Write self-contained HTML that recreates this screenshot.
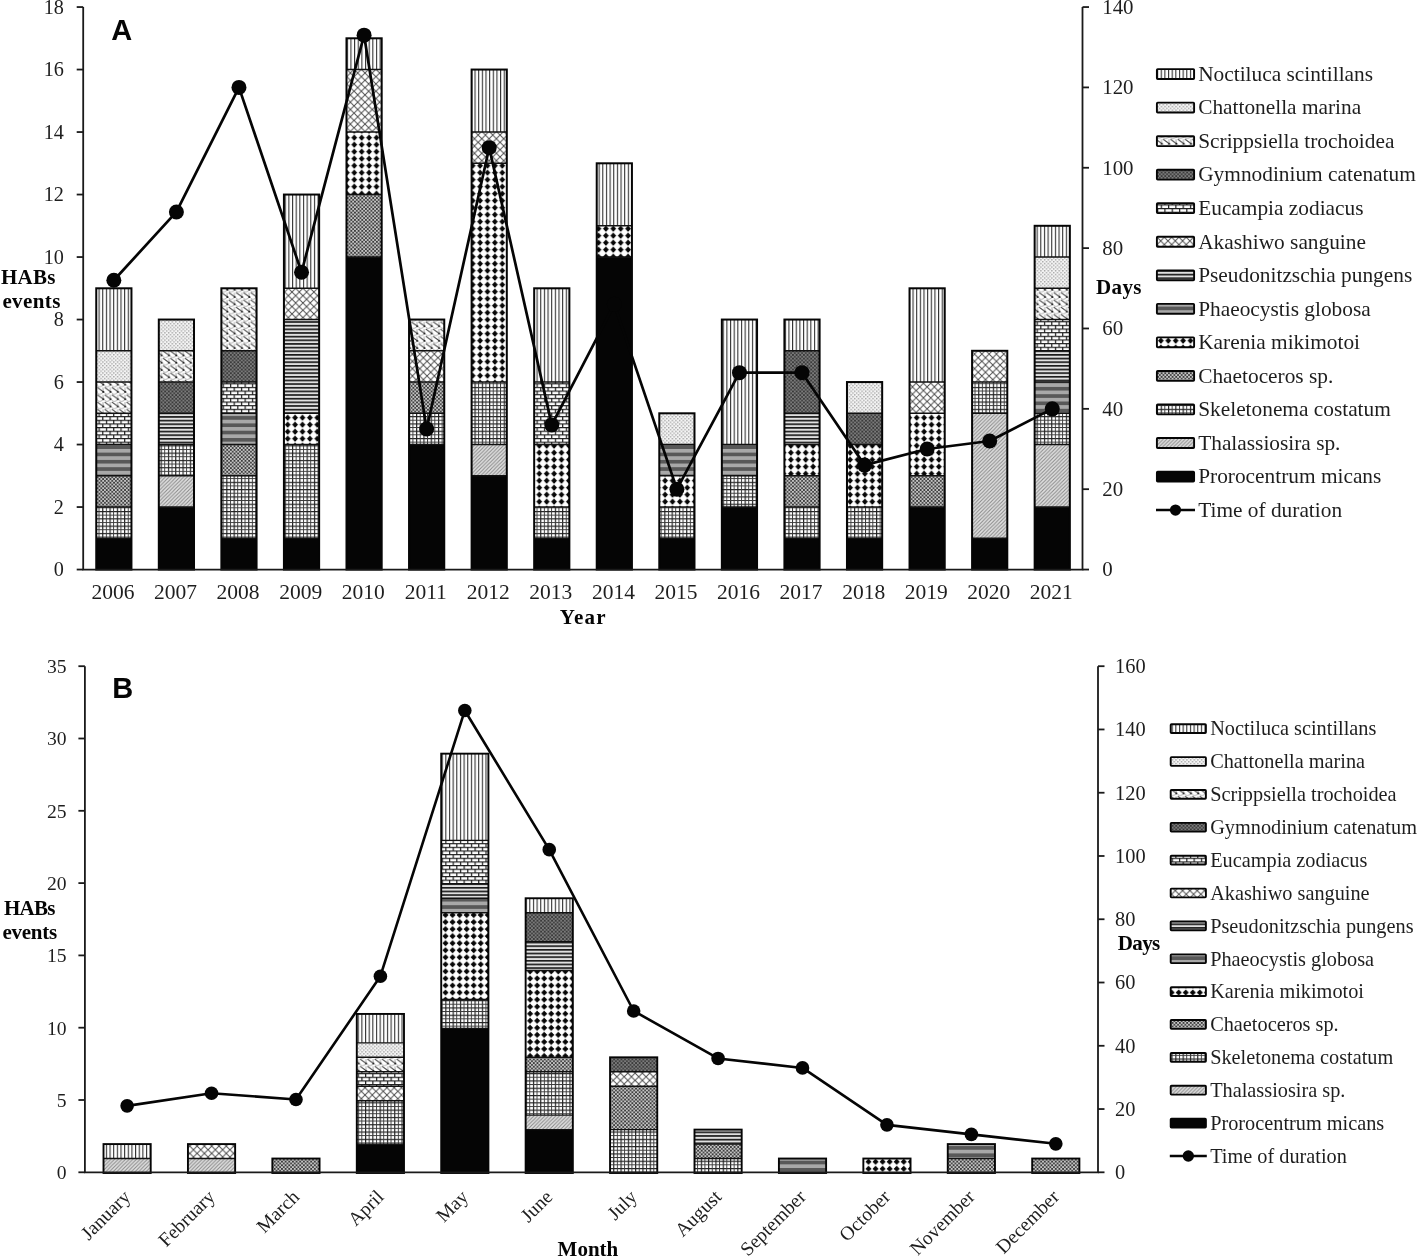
<!DOCTYPE html>
<html><head><meta charset="utf-8"><style>
html,body{margin:0;padding:0;background:#fff;}
svg{display:block;filter:grayscale(1);}
.tk{font-family:"Liberation Serif",serif;fill:#1e1e1e;}
.lg{font-family:"Liberation Serif",serif;fill:#1e1e1e;}
.ax{font-family:"Liberation Serif",serif;font-weight:bold;font-size:21px;fill:#050505;}
.ttl{font-family:"Liberation Sans",sans-serif;font-weight:bold;font-size:29px;fill:#050505;}
</style></head><body>
<svg width="1418" height="1257" viewBox="0 0 1418 1257">
<defs>
<pattern id="p_noct" patternUnits="userSpaceOnUse" width="3.65" height="10">
 <rect width="3.65" height="10" fill="#fff"/><rect x="0" width="1.1" height="10" fill="#333"/></pattern>
<pattern id="p_chat" patternUnits="userSpaceOnUse" width="3.65" height="3.65">
 <rect width="3.65" height="3.65" fill="#f5f5f5"/><rect x="0" y="0" width="1.4" height="1.4" fill="#a0a0a0"/><rect x="1.825" y="1.825" width="1.4" height="1.4" fill="#a8a8a8"/></pattern>
<pattern id="p_scri" patternUnits="userSpaceOnUse" width="7.3" height="7.3" x="0.8" y="0.5">
 <rect width="7.3" height="7.3" fill="#fff"/>
 <path d="M0,0.2 C-0.3,4.6 2.4,6.9 4.1,6.7 C5.8,6.5 7.1,5.6 7.63,4.3 M-7.3,0.2 C-7.6,4.6 -4.9,6.9 -3.2,6.7 C-1.5,6.5 -0.2,5.6 0.33,4.3 M7.3,0.2 C7.0,4.6 9.7,6.9 11.4,6.7" fill="none" stroke="#a0a0a0" stroke-width="0.9"/>
 <path d="M1.6,0.1 L7.63,4.3 M-5.7,0.1 L0.33,4.3 M1.6,7.4 L3,8.4" fill="none" stroke="#454545" stroke-width="1.1"/>
 <circle cx="0.35" cy="4.5" r="0.95" fill="#1a1a1a"/><circle cx="7.65" cy="4.5" r="0.95" fill="#1a1a1a"/></pattern>
<pattern id="p_gymn" patternUnits="userSpaceOnUse" width="3.65" height="3.65">
 <rect width="3.65" height="3.65" fill="#7a7a7a"/><rect x="0" y="0" width="1.825" height="1.825" fill="#3a3a3a"/><rect x="1.825" y="1.825" width="1.825" height="1.825" fill="#444"/></pattern>
<pattern id="p_euca" patternUnits="userSpaceOnUse" width="7.3" height="7.3">
 <rect width="7.3" height="7.3" fill="#fff"/>
 <rect x="0" y="0" width="7.3" height="1.15" fill="#1e1e1e"/><rect x="0" y="3.65" width="7.3" height="1.15" fill="#1e1e1e"/>
 <rect x="0" y="0" width="1.2" height="3.65" fill="#1e1e1e"/><rect x="3.65" y="3.65" width="1.2" height="3.65" fill="#1e1e1e"/></pattern>
<pattern id="p_akas" patternUnits="userSpaceOnUse" width="7.3" height="7.3">
 <rect width="7.3" height="7.3" fill="#fff"/>
 <path d="M0,0 L7.3,7.3 M7.3,0 L0,7.3" stroke="#4a4a4a" stroke-width="0.95"/></pattern>
<pattern id="p_pseu" patternUnits="userSpaceOnUse" width="10" height="3.65">
 <rect width="10" height="3.65" fill="#e0e0e0"/><rect y="0" width="10" height="1.65" fill="#1a1a1a"/></pattern>
<pattern id="p_phae" patternUnits="userSpaceOnUse" width="10" height="7.3">
 <rect width="10" height="7.3" fill="#a8a8a8"/><rect y="0" width="10" height="3.65" fill="#585858"/></pattern>
<pattern id="p_kare" patternUnits="userSpaceOnUse" width="7.4" height="7.0" x="2.8" y="1.2">
 <rect width="7.4" height="7.0" fill="#fff"/>
 <path d="M0,3.5 H7.4 M3.7,0 V7" stroke="#c8c8c8" stroke-width="0.6"/>
 <path d="M3.7,1.2 L6.0,3.5 L3.7,5.8 L1.4,3.5 Z" fill="#050505" stroke="#050505" stroke-width="1.0" stroke-linejoin="round"/></pattern>
<pattern id="p_kareB" patternUnits="userSpaceOnUse" width="7.05" height="7.05" x="4.88" y="2.03">
 <rect width="7.05" height="7.05" fill="#fff"/>
 <path d="M0,3.525 H7.05 M3.525,0 V7.05" stroke="#c8c8c8" stroke-width="0.6"/>
 <path d="M3.525,1.3 L5.75,3.525 L3.525,5.75 L1.3,3.525 Z" fill="#050505" stroke="#050505" stroke-width="1.1" stroke-linejoin="round"/></pattern>
<pattern id="p_chae" patternUnits="userSpaceOnUse" width="3.65" height="3.65">
 <rect width="3.65" height="3.65" fill="#c4c4c4"/><rect x="0" y="0" width="1.825" height="1.825" fill="#3c3c3c"/><rect x="1.825" y="1.825" width="1.825" height="1.825" fill="#4a4a4a"/></pattern>
<pattern id="p_skel" patternUnits="userSpaceOnUse" width="7.3" height="7.3">
 <rect width="7.3" height="7.3" fill="#fff"/>
 <rect x="0" y="0" width="1.15" height="7.3" fill="#1e1e1e"/><rect x="0" y="0" width="7.3" height="1.15" fill="#1e1e1e"/>
 <rect x="3.65" y="0" width="0.95" height="7.3" fill="#3a3a3a"/><rect x="0" y="3.65" width="7.3" height="0.95" fill="#3a3a3a"/></pattern>
<pattern id="p_thal" patternUnits="userSpaceOnUse" width="3.65" height="3.65">
 <rect width="3.65" height="3.65" fill="#e2e2e2"/>
 <path d="M-1,4.65 L4.65,-1 M-1,1 L1,-1 M2.65,4.65 L4.65,2.65" stroke="#8a8a8a" stroke-width="1.1"/></pattern>
</defs>
<rect width="1418" height="1257" fill="#fff"/>
<rect x="96.25" y="538.30" width="35.20" height="31.25" fill="#050505"/>
<rect x="96.25" y="507.05" width="35.20" height="31.25" fill="url(#p_skel)"/>
<rect x="96.25" y="475.80" width="35.20" height="31.25" fill="url(#p_chae)"/>
<rect x="96.25" y="444.55" width="35.20" height="31.25" fill="url(#p_phae)"/>
<rect x="96.25" y="413.30" width="35.20" height="31.25" fill="url(#p_euca)"/>
<rect x="96.25" y="382.05" width="35.20" height="31.25" fill="url(#p_scri)"/>
<rect x="96.25" y="350.80" width="35.20" height="31.25" fill="url(#p_chat)"/>
<rect x="96.25" y="288.30" width="35.20" height="62.50" fill="url(#p_noct)"/>
<line x1="96.25" y1="538.30" x2="131.45" y2="538.30" stroke="#111" stroke-width="1.4"/>
<line x1="96.25" y1="507.05" x2="131.45" y2="507.05" stroke="#111" stroke-width="1.4"/>
<line x1="96.25" y1="475.80" x2="131.45" y2="475.80" stroke="#111" stroke-width="1.4"/>
<line x1="96.25" y1="444.55" x2="131.45" y2="444.55" stroke="#111" stroke-width="1.4"/>
<line x1="96.25" y1="413.30" x2="131.45" y2="413.30" stroke="#111" stroke-width="1.4"/>
<line x1="96.25" y1="382.05" x2="131.45" y2="382.05" stroke="#111" stroke-width="1.4"/>
<line x1="96.25" y1="350.80" x2="131.45" y2="350.80" stroke="#111" stroke-width="1.4"/>
<rect x="96.25" y="288.30" width="35.20" height="281.25" fill="none" stroke="#050505" stroke-width="2.0"/>
<rect x="158.81" y="507.05" width="35.20" height="62.50" fill="#050505"/>
<rect x="158.81" y="475.80" width="35.20" height="31.25" fill="url(#p_thal)"/>
<rect x="158.81" y="444.55" width="35.20" height="31.25" fill="url(#p_skel)"/>
<rect x="158.81" y="413.30" width="35.20" height="31.25" fill="url(#p_pseu)"/>
<rect x="158.81" y="382.05" width="35.20" height="31.25" fill="url(#p_gymn)"/>
<rect x="158.81" y="350.80" width="35.20" height="31.25" fill="url(#p_scri)"/>
<rect x="158.81" y="319.55" width="35.20" height="31.25" fill="url(#p_chat)"/>
<line x1="158.81" y1="507.05" x2="194.01" y2="507.05" stroke="#111" stroke-width="1.4"/>
<line x1="158.81" y1="475.80" x2="194.01" y2="475.80" stroke="#111" stroke-width="1.4"/>
<line x1="158.81" y1="444.55" x2="194.01" y2="444.55" stroke="#111" stroke-width="1.4"/>
<line x1="158.81" y1="413.30" x2="194.01" y2="413.30" stroke="#111" stroke-width="1.4"/>
<line x1="158.81" y1="382.05" x2="194.01" y2="382.05" stroke="#111" stroke-width="1.4"/>
<line x1="158.81" y1="350.80" x2="194.01" y2="350.80" stroke="#111" stroke-width="1.4"/>
<rect x="158.81" y="319.55" width="35.20" height="250.00" fill="none" stroke="#050505" stroke-width="2.0"/>
<rect x="221.37" y="538.30" width="35.20" height="31.25" fill="#050505"/>
<rect x="221.37" y="475.80" width="35.20" height="62.50" fill="url(#p_skel)"/>
<rect x="221.37" y="444.55" width="35.20" height="31.25" fill="url(#p_chae)"/>
<rect x="221.37" y="413.30" width="35.20" height="31.25" fill="url(#p_phae)"/>
<rect x="221.37" y="382.05" width="35.20" height="31.25" fill="url(#p_euca)"/>
<rect x="221.37" y="350.80" width="35.20" height="31.25" fill="url(#p_gymn)"/>
<rect x="221.37" y="288.30" width="35.20" height="62.50" fill="url(#p_scri)"/>
<line x1="221.37" y1="538.30" x2="256.57" y2="538.30" stroke="#111" stroke-width="1.4"/>
<line x1="221.37" y1="475.80" x2="256.57" y2="475.80" stroke="#111" stroke-width="1.4"/>
<line x1="221.37" y1="444.55" x2="256.57" y2="444.55" stroke="#111" stroke-width="1.4"/>
<line x1="221.37" y1="413.30" x2="256.57" y2="413.30" stroke="#111" stroke-width="1.4"/>
<line x1="221.37" y1="382.05" x2="256.57" y2="382.05" stroke="#111" stroke-width="1.4"/>
<line x1="221.37" y1="350.80" x2="256.57" y2="350.80" stroke="#111" stroke-width="1.4"/>
<rect x="221.37" y="288.30" width="35.20" height="281.25" fill="none" stroke="#050505" stroke-width="2.0"/>
<rect x="283.93" y="538.30" width="35.20" height="31.25" fill="#050505"/>
<rect x="283.93" y="444.55" width="35.20" height="93.75" fill="url(#p_skel)"/>
<rect x="283.93" y="413.30" width="35.20" height="31.25" fill="url(#p_kare)"/>
<rect x="283.93" y="319.55" width="35.20" height="93.75" fill="url(#p_pseu)"/>
<rect x="283.93" y="288.30" width="35.20" height="31.25" fill="url(#p_akas)"/>
<rect x="283.93" y="194.55" width="35.20" height="93.75" fill="url(#p_noct)"/>
<line x1="283.93" y1="538.30" x2="319.13" y2="538.30" stroke="#111" stroke-width="1.4"/>
<line x1="283.93" y1="444.55" x2="319.13" y2="444.55" stroke="#111" stroke-width="1.4"/>
<line x1="283.93" y1="413.30" x2="319.13" y2="413.30" stroke="#111" stroke-width="1.4"/>
<line x1="283.93" y1="319.55" x2="319.13" y2="319.55" stroke="#111" stroke-width="1.4"/>
<line x1="283.93" y1="288.30" x2="319.13" y2="288.30" stroke="#111" stroke-width="1.4"/>
<rect x="283.93" y="194.55" width="35.20" height="375.00" fill="none" stroke="#050505" stroke-width="2.0"/>
<rect x="346.49" y="257.05" width="35.20" height="312.50" fill="#050505"/>
<rect x="346.49" y="194.55" width="35.20" height="62.50" fill="url(#p_chae)"/>
<rect x="346.49" y="132.05" width="35.20" height="62.50" fill="url(#p_kare)"/>
<rect x="346.49" y="69.55" width="35.20" height="62.50" fill="url(#p_akas)"/>
<rect x="346.49" y="38.30" width="35.20" height="31.25" fill="url(#p_noct)"/>
<line x1="346.49" y1="257.05" x2="381.69" y2="257.05" stroke="#111" stroke-width="1.4"/>
<line x1="346.49" y1="194.55" x2="381.69" y2="194.55" stroke="#111" stroke-width="1.4"/>
<line x1="346.49" y1="132.05" x2="381.69" y2="132.05" stroke="#111" stroke-width="1.4"/>
<line x1="346.49" y1="69.55" x2="381.69" y2="69.55" stroke="#111" stroke-width="1.4"/>
<rect x="346.49" y="38.30" width="35.20" height="531.25" fill="none" stroke="#050505" stroke-width="2.0"/>
<rect x="409.05" y="444.55" width="35.20" height="125.00" fill="#050505"/>
<rect x="409.05" y="413.30" width="35.20" height="31.25" fill="url(#p_skel)"/>
<rect x="409.05" y="382.05" width="35.20" height="31.25" fill="url(#p_chae)"/>
<rect x="409.05" y="350.80" width="35.20" height="31.25" fill="url(#p_akas)"/>
<rect x="409.05" y="319.55" width="35.20" height="31.25" fill="url(#p_scri)"/>
<line x1="409.05" y1="444.55" x2="444.25" y2="444.55" stroke="#111" stroke-width="1.4"/>
<line x1="409.05" y1="413.30" x2="444.25" y2="413.30" stroke="#111" stroke-width="1.4"/>
<line x1="409.05" y1="382.05" x2="444.25" y2="382.05" stroke="#111" stroke-width="1.4"/>
<line x1="409.05" y1="350.80" x2="444.25" y2="350.80" stroke="#111" stroke-width="1.4"/>
<rect x="409.05" y="319.55" width="35.20" height="250.00" fill="none" stroke="#050505" stroke-width="2.0"/>
<rect x="471.61" y="475.80" width="35.20" height="93.75" fill="#050505"/>
<rect x="471.61" y="444.55" width="35.20" height="31.25" fill="url(#p_thal)"/>
<rect x="471.61" y="382.05" width="35.20" height="62.50" fill="url(#p_skel)"/>
<rect x="471.61" y="163.30" width="35.20" height="218.75" fill="url(#p_kare)"/>
<rect x="471.61" y="132.05" width="35.20" height="31.25" fill="url(#p_akas)"/>
<rect x="471.61" y="69.55" width="35.20" height="62.50" fill="url(#p_noct)"/>
<line x1="471.61" y1="475.80" x2="506.81" y2="475.80" stroke="#111" stroke-width="1.4"/>
<line x1="471.61" y1="444.55" x2="506.81" y2="444.55" stroke="#111" stroke-width="1.4"/>
<line x1="471.61" y1="382.05" x2="506.81" y2="382.05" stroke="#111" stroke-width="1.4"/>
<line x1="471.61" y1="163.30" x2="506.81" y2="163.30" stroke="#111" stroke-width="1.4"/>
<line x1="471.61" y1="132.05" x2="506.81" y2="132.05" stroke="#111" stroke-width="1.4"/>
<rect x="471.61" y="69.55" width="35.20" height="500.00" fill="none" stroke="#050505" stroke-width="2.0"/>
<rect x="534.17" y="538.30" width="35.20" height="31.25" fill="#050505"/>
<rect x="534.17" y="507.05" width="35.20" height="31.25" fill="url(#p_skel)"/>
<rect x="534.17" y="444.55" width="35.20" height="62.50" fill="url(#p_kare)"/>
<rect x="534.17" y="382.05" width="35.20" height="62.50" fill="url(#p_euca)"/>
<rect x="534.17" y="288.30" width="35.20" height="93.75" fill="url(#p_noct)"/>
<line x1="534.17" y1="538.30" x2="569.37" y2="538.30" stroke="#111" stroke-width="1.4"/>
<line x1="534.17" y1="507.05" x2="569.37" y2="507.05" stroke="#111" stroke-width="1.4"/>
<line x1="534.17" y1="444.55" x2="569.37" y2="444.55" stroke="#111" stroke-width="1.4"/>
<line x1="534.17" y1="382.05" x2="569.37" y2="382.05" stroke="#111" stroke-width="1.4"/>
<rect x="534.17" y="288.30" width="35.20" height="281.25" fill="none" stroke="#050505" stroke-width="2.0"/>
<rect x="596.73" y="257.05" width="35.20" height="312.50" fill="#050505"/>
<rect x="596.73" y="225.80" width="35.20" height="31.25" fill="url(#p_kare)"/>
<rect x="596.73" y="163.30" width="35.20" height="62.50" fill="url(#p_noct)"/>
<line x1="596.73" y1="257.05" x2="631.93" y2="257.05" stroke="#111" stroke-width="1.4"/>
<line x1="596.73" y1="225.80" x2="631.93" y2="225.80" stroke="#111" stroke-width="1.4"/>
<rect x="596.73" y="163.30" width="35.20" height="406.25" fill="none" stroke="#050505" stroke-width="2.0"/>
<rect x="659.29" y="538.30" width="35.20" height="31.25" fill="#050505"/>
<rect x="659.29" y="507.05" width="35.20" height="31.25" fill="url(#p_skel)"/>
<rect x="659.29" y="475.80" width="35.20" height="31.25" fill="url(#p_kare)"/>
<rect x="659.29" y="444.55" width="35.20" height="31.25" fill="url(#p_phae)"/>
<rect x="659.29" y="413.30" width="35.20" height="31.25" fill="url(#p_chat)"/>
<line x1="659.29" y1="538.30" x2="694.49" y2="538.30" stroke="#111" stroke-width="1.4"/>
<line x1="659.29" y1="507.05" x2="694.49" y2="507.05" stroke="#111" stroke-width="1.4"/>
<line x1="659.29" y1="475.80" x2="694.49" y2="475.80" stroke="#111" stroke-width="1.4"/>
<line x1="659.29" y1="444.55" x2="694.49" y2="444.55" stroke="#111" stroke-width="1.4"/>
<rect x="659.29" y="413.30" width="35.20" height="156.25" fill="none" stroke="#050505" stroke-width="2.0"/>
<rect x="721.85" y="507.05" width="35.20" height="62.50" fill="#050505"/>
<rect x="721.85" y="475.80" width="35.20" height="31.25" fill="url(#p_skel)"/>
<rect x="721.85" y="444.55" width="35.20" height="31.25" fill="url(#p_phae)"/>
<rect x="721.85" y="319.55" width="35.20" height="125.00" fill="url(#p_noct)"/>
<line x1="721.85" y1="507.05" x2="757.05" y2="507.05" stroke="#111" stroke-width="1.4"/>
<line x1="721.85" y1="475.80" x2="757.05" y2="475.80" stroke="#111" stroke-width="1.4"/>
<line x1="721.85" y1="444.55" x2="757.05" y2="444.55" stroke="#111" stroke-width="1.4"/>
<rect x="721.85" y="319.55" width="35.20" height="250.00" fill="none" stroke="#050505" stroke-width="2.0"/>
<rect x="784.41" y="538.30" width="35.20" height="31.25" fill="#050505"/>
<rect x="784.41" y="507.05" width="35.20" height="31.25" fill="url(#p_skel)"/>
<rect x="784.41" y="475.80" width="35.20" height="31.25" fill="url(#p_chae)"/>
<rect x="784.41" y="444.55" width="35.20" height="31.25" fill="url(#p_kare)"/>
<rect x="784.41" y="413.30" width="35.20" height="31.25" fill="url(#p_pseu)"/>
<rect x="784.41" y="350.80" width="35.20" height="62.50" fill="url(#p_gymn)"/>
<rect x="784.41" y="319.55" width="35.20" height="31.25" fill="url(#p_noct)"/>
<line x1="784.41" y1="538.30" x2="819.61" y2="538.30" stroke="#111" stroke-width="1.4"/>
<line x1="784.41" y1="507.05" x2="819.61" y2="507.05" stroke="#111" stroke-width="1.4"/>
<line x1="784.41" y1="475.80" x2="819.61" y2="475.80" stroke="#111" stroke-width="1.4"/>
<line x1="784.41" y1="444.55" x2="819.61" y2="444.55" stroke="#111" stroke-width="1.4"/>
<line x1="784.41" y1="413.30" x2="819.61" y2="413.30" stroke="#111" stroke-width="1.4"/>
<line x1="784.41" y1="350.80" x2="819.61" y2="350.80" stroke="#111" stroke-width="1.4"/>
<rect x="784.41" y="319.55" width="35.20" height="250.00" fill="none" stroke="#050505" stroke-width="2.0"/>
<rect x="846.97" y="538.30" width="35.20" height="31.25" fill="#050505"/>
<rect x="846.97" y="507.05" width="35.20" height="31.25" fill="url(#p_skel)"/>
<rect x="846.97" y="444.55" width="35.20" height="62.50" fill="url(#p_kare)"/>
<rect x="846.97" y="413.30" width="35.20" height="31.25" fill="url(#p_gymn)"/>
<rect x="846.97" y="382.05" width="35.20" height="31.25" fill="url(#p_chat)"/>
<line x1="846.97" y1="538.30" x2="882.17" y2="538.30" stroke="#111" stroke-width="1.4"/>
<line x1="846.97" y1="507.05" x2="882.17" y2="507.05" stroke="#111" stroke-width="1.4"/>
<line x1="846.97" y1="444.55" x2="882.17" y2="444.55" stroke="#111" stroke-width="1.4"/>
<line x1="846.97" y1="413.30" x2="882.17" y2="413.30" stroke="#111" stroke-width="1.4"/>
<rect x="846.97" y="382.05" width="35.20" height="187.50" fill="none" stroke="#050505" stroke-width="2.0"/>
<rect x="909.53" y="507.05" width="35.20" height="62.50" fill="#050505"/>
<rect x="909.53" y="475.80" width="35.20" height="31.25" fill="url(#p_chae)"/>
<rect x="909.53" y="413.30" width="35.20" height="62.50" fill="url(#p_kare)"/>
<rect x="909.53" y="382.05" width="35.20" height="31.25" fill="url(#p_akas)"/>
<rect x="909.53" y="288.30" width="35.20" height="93.75" fill="url(#p_noct)"/>
<line x1="909.53" y1="507.05" x2="944.73" y2="507.05" stroke="#111" stroke-width="1.4"/>
<line x1="909.53" y1="475.80" x2="944.73" y2="475.80" stroke="#111" stroke-width="1.4"/>
<line x1="909.53" y1="413.30" x2="944.73" y2="413.30" stroke="#111" stroke-width="1.4"/>
<line x1="909.53" y1="382.05" x2="944.73" y2="382.05" stroke="#111" stroke-width="1.4"/>
<rect x="909.53" y="288.30" width="35.20" height="281.25" fill="none" stroke="#050505" stroke-width="2.0"/>
<rect x="972.09" y="538.30" width="35.20" height="31.25" fill="#050505"/>
<rect x="972.09" y="413.30" width="35.20" height="125.00" fill="url(#p_thal)"/>
<rect x="972.09" y="382.05" width="35.20" height="31.25" fill="url(#p_skel)"/>
<rect x="972.09" y="350.80" width="35.20" height="31.25" fill="url(#p_akas)"/>
<line x1="972.09" y1="538.30" x2="1007.29" y2="538.30" stroke="#111" stroke-width="1.4"/>
<line x1="972.09" y1="413.30" x2="1007.29" y2="413.30" stroke="#111" stroke-width="1.4"/>
<line x1="972.09" y1="382.05" x2="1007.29" y2="382.05" stroke="#111" stroke-width="1.4"/>
<rect x="972.09" y="350.80" width="35.20" height="218.75" fill="none" stroke="#050505" stroke-width="2.0"/>
<rect x="1034.65" y="507.05" width="35.20" height="62.50" fill="#050505"/>
<rect x="1034.65" y="444.55" width="35.20" height="62.50" fill="url(#p_thal)"/>
<rect x="1034.65" y="413.30" width="35.20" height="31.25" fill="url(#p_skel)"/>
<rect x="1034.65" y="382.05" width="35.20" height="31.25" fill="url(#p_phae)"/>
<rect x="1034.65" y="350.80" width="35.20" height="31.25" fill="url(#p_pseu)"/>
<rect x="1034.65" y="319.55" width="35.20" height="31.25" fill="url(#p_euca)"/>
<rect x="1034.65" y="288.30" width="35.20" height="31.25" fill="url(#p_scri)"/>
<rect x="1034.65" y="257.05" width="35.20" height="31.25" fill="url(#p_chat)"/>
<rect x="1034.65" y="225.80" width="35.20" height="31.25" fill="url(#p_noct)"/>
<line x1="1034.65" y1="507.05" x2="1069.85" y2="507.05" stroke="#111" stroke-width="1.4"/>
<line x1="1034.65" y1="444.55" x2="1069.85" y2="444.55" stroke="#111" stroke-width="1.4"/>
<line x1="1034.65" y1="413.30" x2="1069.85" y2="413.30" stroke="#111" stroke-width="1.4"/>
<line x1="1034.65" y1="382.05" x2="1069.85" y2="382.05" stroke="#111" stroke-width="1.4"/>
<line x1="1034.65" y1="350.80" x2="1069.85" y2="350.80" stroke="#111" stroke-width="1.4"/>
<line x1="1034.65" y1="319.55" x2="1069.85" y2="319.55" stroke="#111" stroke-width="1.4"/>
<line x1="1034.65" y1="288.30" x2="1069.85" y2="288.30" stroke="#111" stroke-width="1.4"/>
<line x1="1034.65" y1="257.05" x2="1069.85" y2="257.05" stroke="#111" stroke-width="1.4"/>
<rect x="1034.65" y="225.80" width="35.20" height="343.75" fill="none" stroke="#050505" stroke-width="2.0"/>
<path d="M83.2,7.05 V569.55 H1082.5 V7.05" fill="none" stroke="#1a1a1a" stroke-width="1.8"/>
<line x1="76.7" y1="569.55" x2="83.2" y2="569.55" stroke="#1a1a1a" stroke-width="1.8"/>
<text x="63.9" y="576.45" text-anchor="end" class="tk" font-size="20.2">0</text>
<line x1="76.7" y1="507.05" x2="83.2" y2="507.05" stroke="#1a1a1a" stroke-width="1.8"/>
<text x="63.9" y="513.95" text-anchor="end" class="tk" font-size="20.2">2</text>
<line x1="76.7" y1="444.55" x2="83.2" y2="444.55" stroke="#1a1a1a" stroke-width="1.8"/>
<text x="63.9" y="451.45" text-anchor="end" class="tk" font-size="20.2">4</text>
<line x1="76.7" y1="382.05" x2="83.2" y2="382.05" stroke="#1a1a1a" stroke-width="1.8"/>
<text x="63.9" y="388.95" text-anchor="end" class="tk" font-size="20.2">6</text>
<line x1="76.7" y1="319.55" x2="83.2" y2="319.55" stroke="#1a1a1a" stroke-width="1.8"/>
<text x="63.9" y="326.45" text-anchor="end" class="tk" font-size="20.2">8</text>
<line x1="76.7" y1="257.05" x2="83.2" y2="257.05" stroke="#1a1a1a" stroke-width="1.8"/>
<text x="63.9" y="263.95" text-anchor="end" class="tk" font-size="20.2">10</text>
<line x1="76.7" y1="194.55" x2="83.2" y2="194.55" stroke="#1a1a1a" stroke-width="1.8"/>
<text x="63.9" y="201.45" text-anchor="end" class="tk" font-size="20.2">12</text>
<line x1="76.7" y1="132.05" x2="83.2" y2="132.05" stroke="#1a1a1a" stroke-width="1.8"/>
<text x="63.9" y="138.95" text-anchor="end" class="tk" font-size="20.2">14</text>
<line x1="76.7" y1="69.55" x2="83.2" y2="69.55" stroke="#1a1a1a" stroke-width="1.8"/>
<text x="63.9" y="76.45" text-anchor="end" class="tk" font-size="20.2">16</text>
<line x1="76.7" y1="7.05" x2="83.2" y2="7.05" stroke="#1a1a1a" stroke-width="1.8"/>
<text x="63.9" y="13.95" text-anchor="end" class="tk" font-size="20.2">18</text>
<line x1="1082.5" y1="569.55" x2="1089.0" y2="569.55" stroke="#1a1a1a" stroke-width="1.8"/>
<text x="1102.2" y="576.40" text-anchor="start" class="tk" font-size="20.9">0</text>
<line x1="1082.5" y1="489.19" x2="1089.0" y2="489.19" stroke="#1a1a1a" stroke-width="1.8"/>
<text x="1102.2" y="496.04" text-anchor="start" class="tk" font-size="20.9">20</text>
<line x1="1082.5" y1="408.84" x2="1089.0" y2="408.84" stroke="#1a1a1a" stroke-width="1.8"/>
<text x="1102.2" y="415.69" text-anchor="start" class="tk" font-size="20.9">40</text>
<line x1="1082.5" y1="328.48" x2="1089.0" y2="328.48" stroke="#1a1a1a" stroke-width="1.8"/>
<text x="1102.2" y="335.33" text-anchor="start" class="tk" font-size="20.9">60</text>
<line x1="1082.5" y1="248.12" x2="1089.0" y2="248.12" stroke="#1a1a1a" stroke-width="1.8"/>
<text x="1102.2" y="254.97" text-anchor="start" class="tk" font-size="20.9">80</text>
<line x1="1082.5" y1="167.76" x2="1089.0" y2="167.76" stroke="#1a1a1a" stroke-width="1.8"/>
<text x="1102.2" y="174.61" text-anchor="start" class="tk" font-size="20.9">100</text>
<line x1="1082.5" y1="87.41" x2="1089.0" y2="87.41" stroke="#1a1a1a" stroke-width="1.8"/>
<text x="1102.2" y="94.26" text-anchor="start" class="tk" font-size="20.9">120</text>
<line x1="1082.5" y1="7.05" x2="1089.0" y2="7.05" stroke="#1a1a1a" stroke-width="1.8"/>
<text x="1102.2" y="13.90" text-anchor="start" class="tk" font-size="20.9">140</text>
<polyline points="113.85,280.26 176.41,211.96 238.97,87.41 301.53,272.23 364.09,35.17 426.65,428.92 489.21,147.67 551.77,424.91 614.33,304.37 676.89,489.19 739.45,372.67 802.01,372.67 864.57,465.09 927.13,449.01 989.69,440.98 1052.25,408.84" fill="none" stroke="#050505" stroke-width="2.7" stroke-linejoin="round"/>
<circle cx="113.85" cy="280.26" r="7.5" fill="#050505"/>
<circle cx="176.41" cy="211.96" r="7.5" fill="#050505"/>
<circle cx="238.97" cy="87.41" r="7.5" fill="#050505"/>
<circle cx="301.53" cy="272.23" r="7.5" fill="#050505"/>
<circle cx="364.09" cy="35.17" r="7.5" fill="#050505"/>
<circle cx="426.65" cy="428.92" r="7.5" fill="#050505"/>
<circle cx="489.21" cy="147.67" r="7.5" fill="#050505"/>
<circle cx="551.77" cy="424.91" r="7.5" fill="#050505"/>
<circle cx="614.33" cy="304.37" r="7.5" fill="#050505"/>
<circle cx="676.89" cy="489.19" r="7.5" fill="#050505"/>
<circle cx="739.45" cy="372.67" r="7.5" fill="#050505"/>
<circle cx="802.01" cy="372.67" r="7.5" fill="#050505"/>
<circle cx="864.57" cy="465.09" r="7.5" fill="#050505"/>
<circle cx="927.13" cy="449.01" r="7.5" fill="#050505"/>
<circle cx="989.69" cy="440.98" r="7.5" fill="#050505"/>
<circle cx="1052.25" cy="408.84" r="7.5" fill="#050505"/>
<text x="112.95" y="599.4" text-anchor="middle" class="tk" font-size="21.5">2006</text>
<text x="175.51" y="599.4" text-anchor="middle" class="tk" font-size="21.5">2007</text>
<text x="238.07" y="599.4" text-anchor="middle" class="tk" font-size="21.5">2008</text>
<text x="300.63" y="599.4" text-anchor="middle" class="tk" font-size="21.5">2009</text>
<text x="363.19" y="599.4" text-anchor="middle" class="tk" font-size="21.5">2010</text>
<text x="425.75" y="599.4" text-anchor="middle" class="tk" font-size="21.5">2011</text>
<text x="488.31" y="599.4" text-anchor="middle" class="tk" font-size="21.5">2012</text>
<text x="550.87" y="599.4" text-anchor="middle" class="tk" font-size="21.5">2013</text>
<text x="613.43" y="599.4" text-anchor="middle" class="tk" font-size="21.5">2014</text>
<text x="675.99" y="599.4" text-anchor="middle" class="tk" font-size="21.5">2015</text>
<text x="738.55" y="599.4" text-anchor="middle" class="tk" font-size="21.5">2016</text>
<text x="801.11" y="599.4" text-anchor="middle" class="tk" font-size="21.5">2017</text>
<text x="863.67" y="599.4" text-anchor="middle" class="tk" font-size="21.5">2018</text>
<text x="926.23" y="599.4" text-anchor="middle" class="tk" font-size="21.5">2019</text>
<text x="988.79" y="599.4" text-anchor="middle" class="tk" font-size="21.5">2020</text>
<text x="1051.35" y="599.4" text-anchor="middle" class="tk" font-size="21.5">2021</text>
<text x="111.3" y="40" class="ttl" font-size="29.5">A</text>
<text x="0.9" y="283.9" class="ax" font-size="20" textLength="54.6">HABs</text>
<text x="2.4" y="307.8" class="ax" font-size="20" textLength="58">events</text>
<text x="1095.9" y="293.7" class="ax" font-size="20" textLength="45.6">Days</text>
<text x="559.8" y="623.8" class="ax" font-size="19.8" textLength="45.8">Year</text>
<rect x="1156.90" y="69.10" width="37.20" height="9.90" rx="0.8" fill="url(#p_noct)" stroke="#050505" stroke-width="1.9"/>
<text x="1198.2" y="80.85" class="lg" font-size="21.35">Noctiluca scintillans</text>
<rect x="1156.90" y="102.64" width="37.20" height="9.90" rx="0.8" fill="url(#p_chat)" stroke="#050505" stroke-width="1.9"/>
<text x="1198.2" y="114.39" class="lg" font-size="21.35">Chattonella marina</text>
<rect x="1156.90" y="136.18" width="37.20" height="9.90" rx="0.8" fill="url(#p_scri)" stroke="#050505" stroke-width="1.9"/>
<text x="1198.2" y="147.93" class="lg" font-size="21.35">Scrippsiella trochoidea</text>
<rect x="1156.90" y="169.72" width="37.20" height="9.90" rx="0.8" fill="url(#p_gymn)" stroke="#050505" stroke-width="1.9"/>
<text x="1198.2" y="181.47" class="lg" font-size="21.35">Gymnodinium catenatum</text>
<rect x="1156.90" y="203.26" width="37.20" height="9.90" rx="0.8" fill="url(#p_euca)" stroke="#050505" stroke-width="1.9"/>
<text x="1198.2" y="215.01" class="lg" font-size="21.35">Eucampia zodiacus</text>
<rect x="1156.90" y="236.80" width="37.20" height="9.90" rx="0.8" fill="url(#p_akas)" stroke="#050505" stroke-width="1.9"/>
<text x="1198.2" y="248.55" class="lg" font-size="21.35">Akashiwo sanguine</text>
<rect x="1156.90" y="270.34" width="37.20" height="9.90" rx="0.8" fill="url(#p_pseu)" stroke="#050505" stroke-width="1.9"/>
<text x="1198.2" y="282.09" class="lg" font-size="21.35">Pseudonitzschia pungens</text>
<rect x="1156.90" y="303.88" width="37.20" height="9.90" rx="0.8" fill="url(#p_phae)" stroke="#050505" stroke-width="1.9"/>
<text x="1198.2" y="315.63" class="lg" font-size="21.35">Phaeocystis globosa</text>
<rect x="1156.90" y="337.42" width="37.20" height="9.90" rx="0.8" fill="url(#p_kare)" stroke="#050505" stroke-width="1.9"/>
<text x="1198.2" y="349.17" class="lg" font-size="21.35">Karenia mikimotoi</text>
<rect x="1156.90" y="370.96" width="37.20" height="9.90" rx="0.8" fill="url(#p_chae)" stroke="#050505" stroke-width="1.9"/>
<text x="1198.2" y="382.71" class="lg" font-size="21.35">Chaetoceros sp.</text>
<rect x="1156.90" y="404.50" width="37.20" height="9.90" rx="0.8" fill="url(#p_skel)" stroke="#050505" stroke-width="1.9"/>
<text x="1198.2" y="416.25" class="lg" font-size="21.35">Skeletonema costatum</text>
<rect x="1156.90" y="438.04" width="37.20" height="9.90" rx="0.8" fill="url(#p_thal)" stroke="#050505" stroke-width="1.9"/>
<text x="1198.2" y="449.79" class="lg" font-size="21.35">Thalassiosira sp.</text>
<rect x="1156.90" y="471.58" width="37.20" height="9.90" rx="0.8" fill="#050505" stroke="#050505" stroke-width="1.9"/>
<text x="1198.2" y="483.33" class="lg" font-size="21.35">Prorocentrum micans</text>
<line x1="1156.0" y1="510.07" x2="1195.0" y2="510.07" stroke="#050505" stroke-width="2.6"/>
<circle cx="1175.50" cy="510.07" r="5.6" fill="#050505"/>
<text x="1198.2" y="516.87" class="lg" font-size="21.35">Time of duration</text>
<rect x="103.51" y="1158.54" width="47.20" height="14.46" fill="url(#p_thal)"/>
<rect x="103.51" y="1144.08" width="47.20" height="14.46" fill="url(#p_noct)"/>
<line x1="103.51" y1="1158.54" x2="150.71" y2="1158.54" stroke="#111" stroke-width="1.4"/>
<rect x="103.51" y="1144.08" width="47.20" height="28.92" fill="none" stroke="#050505" stroke-width="1.9"/>
<rect x="187.94" y="1158.54" width="47.20" height="14.46" fill="url(#p_thal)"/>
<rect x="187.94" y="1144.08" width="47.20" height="14.46" fill="url(#p_akas)"/>
<line x1="187.94" y1="1158.54" x2="235.14" y2="1158.54" stroke="#111" stroke-width="1.4"/>
<rect x="187.94" y="1144.08" width="47.20" height="28.92" fill="none" stroke="#050505" stroke-width="1.9"/>
<rect x="272.36" y="1158.54" width="47.20" height="14.46" fill="url(#p_chae)"/>
<rect x="272.36" y="1158.54" width="47.20" height="14.46" fill="none" stroke="#050505" stroke-width="1.9"/>
<rect x="356.79" y="1144.08" width="47.20" height="28.92" fill="#050505"/>
<rect x="356.79" y="1100.70" width="47.20" height="43.38" fill="url(#p_skel)"/>
<rect x="356.79" y="1086.24" width="47.20" height="14.46" fill="url(#p_akas)"/>
<rect x="356.79" y="1071.78" width="47.20" height="14.46" fill="url(#p_euca)"/>
<rect x="356.79" y="1057.32" width="47.20" height="14.46" fill="url(#p_scri)"/>
<rect x="356.79" y="1042.86" width="47.20" height="14.46" fill="url(#p_chat)"/>
<rect x="356.79" y="1013.94" width="47.20" height="28.92" fill="url(#p_noct)"/>
<line x1="356.79" y1="1144.08" x2="403.99" y2="1144.08" stroke="#111" stroke-width="1.4"/>
<line x1="356.79" y1="1100.70" x2="403.99" y2="1100.70" stroke="#111" stroke-width="1.4"/>
<line x1="356.79" y1="1086.24" x2="403.99" y2="1086.24" stroke="#111" stroke-width="1.4"/>
<line x1="356.79" y1="1071.78" x2="403.99" y2="1071.78" stroke="#111" stroke-width="1.4"/>
<line x1="356.79" y1="1057.32" x2="403.99" y2="1057.32" stroke="#111" stroke-width="1.4"/>
<line x1="356.79" y1="1042.86" x2="403.99" y2="1042.86" stroke="#111" stroke-width="1.4"/>
<rect x="356.79" y="1013.94" width="47.20" height="159.06" fill="none" stroke="#050505" stroke-width="1.9"/>
<rect x="441.21" y="1028.40" width="47.20" height="144.60" fill="#050505"/>
<rect x="441.21" y="999.48" width="47.20" height="28.92" fill="url(#p_skel)"/>
<rect x="441.21" y="912.72" width="47.20" height="86.76" fill="url(#p_kareB)"/>
<rect x="441.21" y="898.26" width="47.20" height="14.46" fill="url(#p_phae)"/>
<rect x="441.21" y="883.80" width="47.20" height="14.46" fill="url(#p_pseu)"/>
<rect x="441.21" y="840.42" width="47.20" height="43.38" fill="url(#p_euca)"/>
<rect x="441.21" y="753.66" width="47.20" height="86.76" fill="url(#p_noct)"/>
<line x1="441.21" y1="1028.40" x2="488.41" y2="1028.40" stroke="#111" stroke-width="1.4"/>
<line x1="441.21" y1="999.48" x2="488.41" y2="999.48" stroke="#111" stroke-width="1.4"/>
<line x1="441.21" y1="912.72" x2="488.41" y2="912.72" stroke="#111" stroke-width="1.4"/>
<line x1="441.21" y1="898.26" x2="488.41" y2="898.26" stroke="#111" stroke-width="1.4"/>
<line x1="441.21" y1="883.80" x2="488.41" y2="883.80" stroke="#111" stroke-width="1.4"/>
<line x1="441.21" y1="840.42" x2="488.41" y2="840.42" stroke="#111" stroke-width="1.4"/>
<rect x="441.21" y="753.66" width="47.20" height="419.34" fill="none" stroke="#050505" stroke-width="1.9"/>
<rect x="525.64" y="1129.62" width="47.20" height="43.38" fill="#050505"/>
<rect x="525.64" y="1115.16" width="47.20" height="14.46" fill="url(#p_thal)"/>
<rect x="525.64" y="1071.78" width="47.20" height="43.38" fill="url(#p_skel)"/>
<rect x="525.64" y="1057.32" width="47.20" height="14.46" fill="url(#p_chae)"/>
<rect x="525.64" y="970.56" width="47.20" height="86.76" fill="url(#p_kareB)"/>
<rect x="525.64" y="941.64" width="47.20" height="28.92" fill="url(#p_pseu)"/>
<rect x="525.64" y="912.72" width="47.20" height="28.92" fill="url(#p_gymn)"/>
<rect x="525.64" y="898.26" width="47.20" height="14.46" fill="url(#p_noct)"/>
<line x1="525.64" y1="1129.62" x2="572.84" y2="1129.62" stroke="#111" stroke-width="1.4"/>
<line x1="525.64" y1="1115.16" x2="572.84" y2="1115.16" stroke="#111" stroke-width="1.4"/>
<line x1="525.64" y1="1071.78" x2="572.84" y2="1071.78" stroke="#111" stroke-width="1.4"/>
<line x1="525.64" y1="1057.32" x2="572.84" y2="1057.32" stroke="#111" stroke-width="1.4"/>
<line x1="525.64" y1="970.56" x2="572.84" y2="970.56" stroke="#111" stroke-width="1.4"/>
<line x1="525.64" y1="941.64" x2="572.84" y2="941.64" stroke="#111" stroke-width="1.4"/>
<line x1="525.64" y1="912.72" x2="572.84" y2="912.72" stroke="#111" stroke-width="1.4"/>
<rect x="525.64" y="898.26" width="47.20" height="274.74" fill="none" stroke="#050505" stroke-width="1.9"/>
<rect x="610.06" y="1129.62" width="47.20" height="43.38" fill="url(#p_skel)"/>
<rect x="610.06" y="1086.24" width="47.20" height="43.38" fill="url(#p_chae)"/>
<rect x="610.06" y="1071.78" width="47.20" height="14.46" fill="url(#p_akas)"/>
<rect x="610.06" y="1057.32" width="47.20" height="14.46" fill="url(#p_gymn)"/>
<line x1="610.06" y1="1129.62" x2="657.26" y2="1129.62" stroke="#111" stroke-width="1.4"/>
<line x1="610.06" y1="1086.24" x2="657.26" y2="1086.24" stroke="#111" stroke-width="1.4"/>
<line x1="610.06" y1="1071.78" x2="657.26" y2="1071.78" stroke="#111" stroke-width="1.4"/>
<rect x="610.06" y="1057.32" width="47.20" height="115.68" fill="none" stroke="#050505" stroke-width="1.9"/>
<rect x="694.49" y="1158.54" width="47.20" height="14.46" fill="url(#p_skel)"/>
<rect x="694.49" y="1144.08" width="47.20" height="14.46" fill="url(#p_chae)"/>
<rect x="694.49" y="1129.62" width="47.20" height="14.46" fill="url(#p_pseu)"/>
<line x1="694.49" y1="1158.54" x2="741.69" y2="1158.54" stroke="#111" stroke-width="1.4"/>
<line x1="694.49" y1="1144.08" x2="741.69" y2="1144.08" stroke="#111" stroke-width="1.4"/>
<rect x="694.49" y="1129.62" width="47.20" height="43.38" fill="none" stroke="#050505" stroke-width="1.9"/>
<rect x="778.91" y="1158.54" width="47.20" height="14.46" fill="url(#p_phae)"/>
<rect x="778.91" y="1158.54" width="47.20" height="14.46" fill="none" stroke="#050505" stroke-width="1.9"/>
<rect x="863.34" y="1158.54" width="47.20" height="14.46" fill="url(#p_kareB)"/>
<rect x="863.34" y="1158.54" width="47.20" height="14.46" fill="none" stroke="#050505" stroke-width="1.9"/>
<rect x="947.76" y="1158.54" width="47.20" height="14.46" fill="url(#p_chae)"/>
<rect x="947.76" y="1144.08" width="47.20" height="14.46" fill="url(#p_phae)"/>
<line x1="947.76" y1="1158.54" x2="994.96" y2="1158.54" stroke="#111" stroke-width="1.4"/>
<rect x="947.76" y="1144.08" width="47.20" height="28.92" fill="none" stroke="#050505" stroke-width="1.9"/>
<rect x="1032.19" y="1158.54" width="47.20" height="14.46" fill="url(#p_chae)"/>
<rect x="1032.19" y="1158.54" width="47.20" height="14.46" fill="none" stroke="#050505" stroke-width="1.9"/>
<path d="M84.9,666.2 V1172.3 H1098.0 V666.2" fill="none" stroke="#1a1a1a" stroke-width="1.8"/>
<line x1="78.4" y1="1172.30" x2="84.9" y2="1172.30" stroke="#1a1a1a" stroke-width="1.8"/>
<text x="66.6" y="1179.20" text-anchor="end" class="tk" font-size="19.6">0</text>
<line x1="78.4" y1="1100.00" x2="84.9" y2="1100.00" stroke="#1a1a1a" stroke-width="1.8"/>
<text x="66.6" y="1106.90" text-anchor="end" class="tk" font-size="19.6">5</text>
<line x1="78.4" y1="1027.70" x2="84.9" y2="1027.70" stroke="#1a1a1a" stroke-width="1.8"/>
<text x="66.6" y="1034.60" text-anchor="end" class="tk" font-size="19.6">10</text>
<line x1="78.4" y1="955.40" x2="84.9" y2="955.40" stroke="#1a1a1a" stroke-width="1.8"/>
<text x="66.6" y="962.30" text-anchor="end" class="tk" font-size="19.6">15</text>
<line x1="78.4" y1="883.10" x2="84.9" y2="883.10" stroke="#1a1a1a" stroke-width="1.8"/>
<text x="66.6" y="890.00" text-anchor="end" class="tk" font-size="19.6">20</text>
<line x1="78.4" y1="810.80" x2="84.9" y2="810.80" stroke="#1a1a1a" stroke-width="1.8"/>
<text x="66.6" y="817.70" text-anchor="end" class="tk" font-size="19.6">25</text>
<line x1="78.4" y1="738.50" x2="84.9" y2="738.50" stroke="#1a1a1a" stroke-width="1.8"/>
<text x="66.6" y="745.40" text-anchor="end" class="tk" font-size="19.6">30</text>
<line x1="78.4" y1="666.20" x2="84.9" y2="666.20" stroke="#1a1a1a" stroke-width="1.8"/>
<text x="66.6" y="673.10" text-anchor="end" class="tk" font-size="19.6">35</text>
<line x1="1098.0" y1="1172.30" x2="1104.5" y2="1172.30" stroke="#1a1a1a" stroke-width="1.8"/>
<text x="1115.1" y="1179.15" text-anchor="start" class="tk" font-size="20.4">0</text>
<line x1="1098.0" y1="1109.04" x2="1104.5" y2="1109.04" stroke="#1a1a1a" stroke-width="1.8"/>
<text x="1115.1" y="1115.89" text-anchor="start" class="tk" font-size="20.4">20</text>
<line x1="1098.0" y1="1045.78" x2="1104.5" y2="1045.78" stroke="#1a1a1a" stroke-width="1.8"/>
<text x="1115.1" y="1052.62" text-anchor="start" class="tk" font-size="20.4">40</text>
<line x1="1098.0" y1="982.51" x2="1104.5" y2="982.51" stroke="#1a1a1a" stroke-width="1.8"/>
<text x="1115.1" y="989.36" text-anchor="start" class="tk" font-size="20.4">60</text>
<line x1="1098.0" y1="919.25" x2="1104.5" y2="919.25" stroke="#1a1a1a" stroke-width="1.8"/>
<text x="1115.1" y="926.10" text-anchor="start" class="tk" font-size="20.4">80</text>
<line x1="1098.0" y1="855.99" x2="1104.5" y2="855.99" stroke="#1a1a1a" stroke-width="1.8"/>
<text x="1115.1" y="862.84" text-anchor="start" class="tk" font-size="20.4">100</text>
<line x1="1098.0" y1="792.73" x2="1104.5" y2="792.73" stroke="#1a1a1a" stroke-width="1.8"/>
<text x="1115.1" y="799.58" text-anchor="start" class="tk" font-size="20.4">120</text>
<line x1="1098.0" y1="729.46" x2="1104.5" y2="729.46" stroke="#1a1a1a" stroke-width="1.8"/>
<text x="1115.1" y="736.31" text-anchor="start" class="tk" font-size="20.4">140</text>
<line x1="1098.0" y1="666.20" x2="1104.5" y2="666.20" stroke="#1a1a1a" stroke-width="1.8"/>
<text x="1115.1" y="673.05" text-anchor="start" class="tk" font-size="20.4">160</text>
<polyline points="127.11,1105.87 211.54,1093.22 295.96,1099.55 380.39,976.19 464.81,710.48 549.24,849.66 633.66,1010.98 718.09,1058.43 802.51,1067.92 886.94,1124.85 971.36,1134.34 1055.79,1143.83" fill="none" stroke="#050505" stroke-width="2.6" stroke-linejoin="round"/>
<circle cx="127.11" cy="1105.87" r="6.8" fill="#050505"/>
<circle cx="211.54" cy="1093.22" r="6.8" fill="#050505"/>
<circle cx="295.96" cy="1099.55" r="6.8" fill="#050505"/>
<circle cx="380.39" cy="976.19" r="6.8" fill="#050505"/>
<circle cx="464.81" cy="710.48" r="6.8" fill="#050505"/>
<circle cx="549.24" cy="849.66" r="6.8" fill="#050505"/>
<circle cx="633.66" cy="1010.98" r="6.8" fill="#050505"/>
<circle cx="718.09" cy="1058.43" r="6.8" fill="#050505"/>
<circle cx="802.51" cy="1067.92" r="6.8" fill="#050505"/>
<circle cx="886.94" cy="1124.85" r="6.8" fill="#050505"/>
<circle cx="971.36" cy="1134.34" r="6.8" fill="#050505"/>
<circle cx="1055.79" cy="1143.83" r="6.8" fill="#050505"/>
<text x="131.61" y="1198" text-anchor="end" class="tk" font-size="19.5" transform="rotate(-45 131.61 1198)">January</text>
<text x="216.04" y="1198" text-anchor="end" class="tk" font-size="19.5" transform="rotate(-45 216.04 1198)">February</text>
<text x="300.46" y="1198" text-anchor="end" class="tk" font-size="19.5" transform="rotate(-45 300.46 1198)">March</text>
<text x="384.89" y="1198" text-anchor="end" class="tk" font-size="19.5" transform="rotate(-45 384.89 1198)">April</text>
<text x="469.31" y="1198" text-anchor="end" class="tk" font-size="19.5" transform="rotate(-45 469.31 1198)">May</text>
<text x="553.74" y="1198" text-anchor="end" class="tk" font-size="19.5" transform="rotate(-45 553.74 1198)">June</text>
<text x="638.16" y="1198" text-anchor="end" class="tk" font-size="19.5" transform="rotate(-45 638.16 1198)">July</text>
<text x="722.59" y="1198" text-anchor="end" class="tk" font-size="19.5" transform="rotate(-45 722.59 1198)">August</text>
<text x="807.01" y="1198" text-anchor="end" class="tk" font-size="19.5" transform="rotate(-45 807.01 1198)">September</text>
<text x="891.44" y="1198" text-anchor="end" class="tk" font-size="19.5" transform="rotate(-45 891.44 1198)">October</text>
<text x="975.86" y="1198" text-anchor="end" class="tk" font-size="19.5" transform="rotate(-45 975.86 1198)">November</text>
<text x="1060.29" y="1198" text-anchor="end" class="tk" font-size="19.5" transform="rotate(-45 1060.29 1198)">December</text>
<text x="112.2" y="697.8" class="ttl" font-size="28">B</text>
<text x="3.9" y="914.7" class="ax" font-size="20" textLength="51.6">HABs</text>
<text x="2.4" y="938.7" class="ax" font-size="20" textLength="54.8">events</text>
<text x="1117.8" y="949.5" class="ax" font-size="19.5" textLength="42.5">Days</text>
<text x="557.6" y="1256.3" class="ax" font-size="20" textLength="60.6">Month</text>
<rect x="1170.70" y="724.20" width="35.20" height="8.80" rx="0.8" fill="url(#p_noct)" stroke="#050505" stroke-width="1.9"/>
<text x="1210.2" y="735.40" class="lg" font-size="20.3">Noctiluca scintillans</text>
<rect x="1170.70" y="757.08" width="35.20" height="8.80" rx="0.8" fill="url(#p_chat)" stroke="#050505" stroke-width="1.9"/>
<text x="1210.2" y="768.27" class="lg" font-size="20.3">Chattonella marina</text>
<rect x="1170.70" y="789.95" width="35.20" height="8.80" rx="0.8" fill="url(#p_scri)" stroke="#050505" stroke-width="1.9"/>
<text x="1210.2" y="801.15" class="lg" font-size="20.3">Scrippsiella trochoidea</text>
<rect x="1170.70" y="822.83" width="35.20" height="8.80" rx="0.8" fill="url(#p_gymn)" stroke="#050505" stroke-width="1.9"/>
<text x="1210.2" y="834.02" class="lg" font-size="20.3">Gymnodinium catenatum</text>
<rect x="1170.70" y="855.70" width="35.20" height="8.80" rx="0.8" fill="url(#p_euca)" stroke="#050505" stroke-width="1.9"/>
<text x="1210.2" y="866.90" class="lg" font-size="20.3">Eucampia zodiacus</text>
<rect x="1170.70" y="888.58" width="35.20" height="8.80" rx="0.8" fill="url(#p_akas)" stroke="#050505" stroke-width="1.9"/>
<text x="1210.2" y="899.77" class="lg" font-size="20.3">Akashiwo sanguine</text>
<rect x="1170.70" y="921.45" width="35.20" height="8.80" rx="0.8" fill="url(#p_pseu)" stroke="#050505" stroke-width="1.9"/>
<text x="1210.2" y="932.65" class="lg" font-size="20.3">Pseudonitzschia pungens</text>
<rect x="1170.70" y="954.33" width="35.20" height="8.80" rx="0.8" fill="url(#p_phae)" stroke="#050505" stroke-width="1.9"/>
<text x="1210.2" y="965.52" class="lg" font-size="20.3">Phaeocystis globosa</text>
<rect x="1170.70" y="987.20" width="35.20" height="8.80" rx="0.8" fill="url(#p_kareB)" stroke="#050505" stroke-width="1.9"/>
<text x="1210.2" y="998.40" class="lg" font-size="20.3">Karenia mikimotoi</text>
<rect x="1170.70" y="1020.07" width="35.20" height="8.80" rx="0.8" fill="url(#p_chae)" stroke="#050505" stroke-width="1.9"/>
<text x="1210.2" y="1031.27" class="lg" font-size="20.3">Chaetoceros sp.</text>
<rect x="1170.70" y="1052.95" width="35.20" height="8.80" rx="0.8" fill="url(#p_skel)" stroke="#050505" stroke-width="1.9"/>
<text x="1210.2" y="1064.15" class="lg" font-size="20.3">Skeletonema costatum</text>
<rect x="1170.70" y="1085.82" width="35.20" height="8.80" rx="0.8" fill="url(#p_thal)" stroke="#050505" stroke-width="1.9"/>
<text x="1210.2" y="1097.02" class="lg" font-size="20.3">Thalassiosira sp.</text>
<rect x="1170.70" y="1118.70" width="35.20" height="8.80" rx="0.8" fill="#050505" stroke="#050505" stroke-width="1.9"/>
<text x="1210.2" y="1129.90" class="lg" font-size="20.3">Prorocentrum micans</text>
<line x1="1169.8" y1="1155.97" x2="1206.8" y2="1155.97" stroke="#050505" stroke-width="2.6"/>
<circle cx="1188.30" cy="1155.97" r="5.7" fill="#050505"/>
<text x="1210.2" y="1162.77" class="lg" font-size="20.3">Time of duration</text>
</svg></body></html>
